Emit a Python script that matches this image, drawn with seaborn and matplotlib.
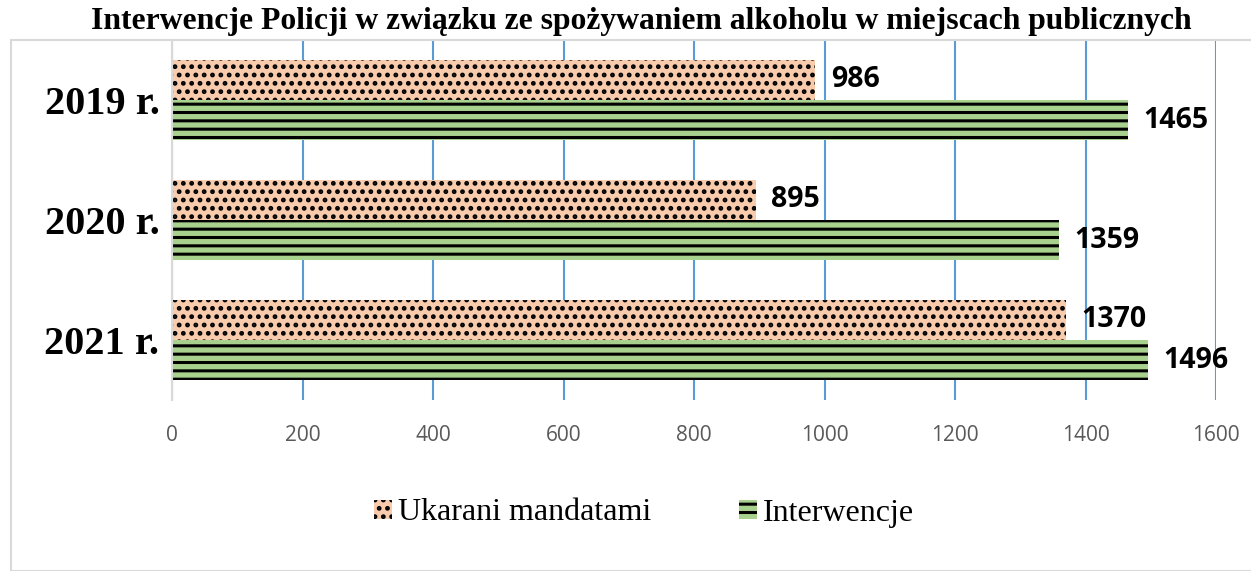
import matplotlib
matplotlib.use("Agg")
import matplotlib.pyplot as plt
import seaborn as sns
import pandas as pd
from matplotlib.patches import Rectangle

years = ["2019 r.", "2020 r.", "2021 r."]
ukarani = [986, 895, 1370]
interwencje = [1465, 1359, 1496]
series = ["Ukarani mandatami", "Interwencje"]
xticks = [0, 200, 400, 600, 800, 1000, 1200, 1400, 1600]
title = "Interwencje Policji w związku ze spożywaniem alkoholu w miejscach publicznych"

df = pd.DataFrame({
    "year": years * 2,
    "value": ukarani + interwencje,
    "series": [series[0]] * 3 + [series[1]] * 3,
})

sns.set_theme(style="white")
plt.rcParams["hatch.linewidth"] = 2.2

fig = plt.figure(figsize=(12.51, 5.71), dpi=100)
ax = fig.add_axes([172 / 1251, 1 - 400 / 571, (1216 - 172) / 1251, 360 / 571])

colors = {"Ukarani mandatami": "#F8CBAD", "Interwencje": "#A9D18E"}
sns.barplot(data=df, y="year", x="value", hue="series", hue_order=series,
            order=years, orient="h", palette=colors, width=0.667,
            ax=ax, legend=False, saturation=1)

hatches = {"Ukarani mandatami": "..", "Interwencje": "--"}
for cont, s in zip(ax.containers, series):
    for bar in cont:
        bar.set_hatch(hatches[s])
        bar.set_edgecolor("black")
        bar.set_linewidth(0)
    ax.bar_label(cont, labels=[str(int(v)) for v in cont.datavalues], padding=11,
                 fontsize=20.5, fontweight="bold", family="Open Sans", color="black")

ax.set_xlim(0, 1600)
ax.set_xticks(xticks)
ax.set_xticklabels([str(t) for t in xticks], color="#595959", fontsize=15, family="Open Sans")
ax.tick_params(axis="x", length=0, pad=18)
ax.tick_params(axis="y", length=0, pad=9)
for lab in ax.get_yticklabels():
    lab.set_fontsize(29)
    lab.set_fontweight("bold")
    lab.set_family("Liberation Serif")
    lab.set_color("black")
ax.set_xlabel("")
ax.set_ylabel("")
ax.grid(axis="x", color="#5B9BD5", linewidth=1.5)
ax.set_axisbelow(True)
for sp in ["top", "right", "bottom"]:
    ax.spines[sp].set_visible(False)
ax.spines["left"].set_color("#D9D9D9")
ax.spines["left"].set_linewidth(1.5)

# outer chart border
fig.patches.append(Rectangle((11 / 1251, 0), 1.0, 1 - 40 / 571, transform=fig.transFigure,
                             fill=False, edgecolor="#D9D9D9", linewidth=1.5))

fig.text(0.513, 1 - 22 / 571, title, ha="center", va="center", fontsize=22.8,
         fontweight="bold", family="Liberation Serif", color="black")

handles = [Rectangle((0, 0), 1, 1, facecolor=colors[s], hatch=hatches[s], edgecolor="black", linewidth=0)
           for s in series]
fig.legend(handles, series, loc="center", bbox_to_anchor=(0.515, 1 - 513 / 571), ncol=2,
           frameon=False, prop={"family": "Liberation Serif", "size": 23},
           handlelength=0.55, handleheight=0.55, handletextpad=0.2, columnspacing=2.75,
           labelcolor="black")

fig.savefig("out.png", dpi=100)
